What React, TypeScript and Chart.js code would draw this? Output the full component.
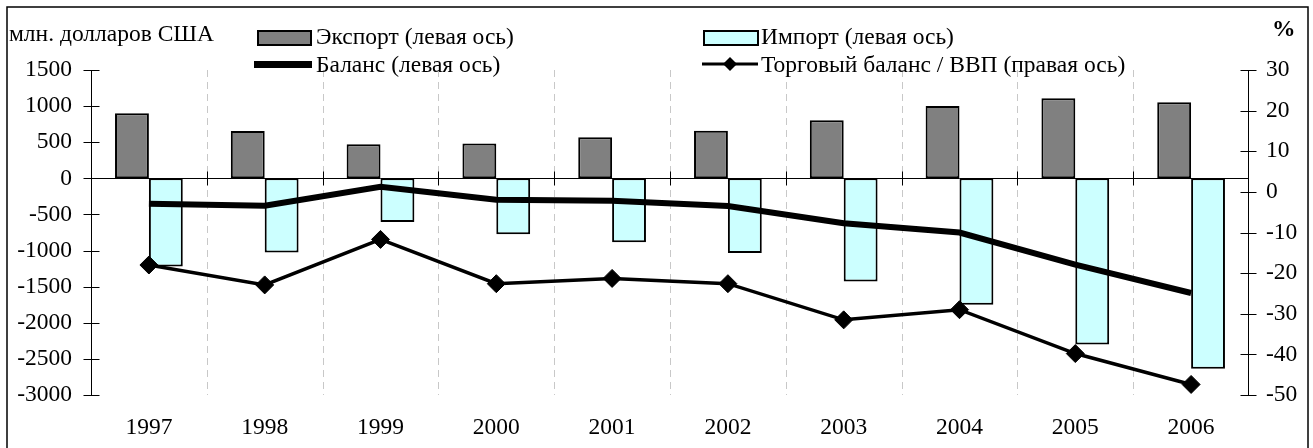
import React, { useEffect, useRef } from 'react';
import { Chart, registerables } from 'chart.js';

Chart.register(...registerables);

const years = ['1997', '1998', '1999', '2000', '2001', '2002', '2003', '2004', '2005', '2006'];
const exportValues = [900, 655, 472, 482, 568, 658, 805, 1000, 1110, 1055];
const importValues = [-1222, -1028, -605, -775, -885, -1035, -1428, -1750, -2300, -2638];
const balanceValues = [-352, -378, -118, -298, -310, -382, -622, -750, -1196, -1588];
const ratioValues = [-18.0, -22.9, -11.7, -22.6, -21.3, -22.6, -31.5, -29.0, -39.8, -47.4];

const leftAxis = { min: -3000, max: 1500, step: 500 };
const rightAxis = { min: -50, max: 30, step: 10 };

const leftTitle = 'млн. долларов США';
const rightTitle = '%';
const legendLabels = [
  'Экспорт (левая ось)',
  'Импорт (левая ось)',
  'Баланс (левая ось)',
  'Торговый баланс / ВВП (правая ось)',
];

const FONT_FAMILY = '"Liberation Serif", "Times New Roman", serif';
const FONT_SIZE = 23.5;
const EXPORT_COLOR = '#808080';
const IMPORT_COLOR = '#ccffff';

function seg(ctx: CanvasRenderingContext2D, x1: number, y1: number, x2: number, y2: number) {
  ctx.beginPath();
  ctx.moveTo(x1, y1);
  ctx.lineTo(x2, y2);
  ctx.stroke();
}

function diamond(ctx: CanvasRenderingContext2D, cx: number, cy: number, r: number) {
  ctx.beginPath();
  ctx.moveTo(cx, cy - r);
  ctx.lineTo(cx + r, cy);
  ctx.lineTo(cx, cy + r);
  ctx.lineTo(cx - r, cy);
  ctx.closePath();
  ctx.fill();
}

const decorPlugin = {
  id: 'decor',
  beforeDatasetsDraw(chart: any) {
    const { ctx, chartArea: a, scales } = chart;
    const yL = scales.yLeft;
    const yR = scales.yRight;
    const n = years.length;
    ctx.save();
    // dashed category boundaries
    ctx.strokeStyle = '#c8c8c8';
    ctx.lineWidth = 1;
    ctx.setLineDash([7, 5]);
    for (let i = 1; i < n; i++) {
      const bx = Math.round(a.left + (i * (a.right - a.left)) / n) + 0.5;
      seg(ctx, bx, a.top, bx, a.bottom);
    }
    ctx.setLineDash([]);
    ctx.strokeStyle = '#000';
    ctx.lineWidth = 1;
    // left axis
    const lx = Math.round(a.left) + 0.5;
    seg(ctx, lx, a.top, lx, a.bottom);
    yL.ticks.forEach((_t: any, i: number) => {
      const py = Math.round(yL.getPixelForTick(i)) + 0.5;
      seg(ctx, lx - 8, py, lx + 8, py);
    });
    // right axis
    const rx = Math.round(a.right) - 0.5;
    seg(ctx, rx, a.top, rx, a.bottom);
    yR.ticks.forEach((_t: any, i: number) => {
      const py = Math.round(yR.getPixelForTick(i)) + 0.5;
      seg(ctx, rx - 8, py, rx + 8, py);
    });
    // zero line of left axis with category ticks
    const zy = Math.round(yL.getPixelForValue(0)) + 0.5;
    seg(ctx, a.left, zy, a.right, zy);
    for (let i = 1; i < n; i++) {
      const bx = Math.round(a.left + (i * (a.right - a.left)) / n) + 0.5;
      seg(ctx, bx, zy - 7, bx, zy + 7);
    }
    ctx.restore();
  },
  afterDraw(chart: any) {
    const { ctx } = chart;
    ctx.save();
    // outer frame
    ctx.strokeStyle = '#000';
    ctx.lineWidth = 1.5;
    ctx.strokeRect(7, 7, 1301, 470);
    // titles
    ctx.fillStyle = '#000';
    ctx.textBaseline = 'middle';
    ctx.textAlign = 'left';
    ctx.font = `${FONT_SIZE}px ${FONT_FAMILY}`;
    ctx.fillText(leftTitle, 9, 35);
    ctx.font = `bold ${FONT_SIZE}px ${FONT_FAMILY}`;
    ctx.fillText(rightTitle, 1272, 30);
    // legend
    ctx.font = `${FONT_SIZE}px ${FONT_FAMILY}`;
    // export box
    ctx.fillStyle = EXPORT_COLOR;
    ctx.fillRect(258, 31, 53, 14);
    ctx.strokeStyle = '#000';
    ctx.lineWidth = 2;
    ctx.strokeRect(258, 31, 53, 14);
    // import box
    ctx.fillStyle = IMPORT_COLOR;
    ctx.fillRect(704, 31, 54, 14);
    ctx.strokeRect(704, 31, 54, 14);
    // balance line sample
    ctx.lineWidth = 7;
    seg(ctx, 254, 64.5, 312, 64.5);
    // ratio line sample
    ctx.lineWidth = 3;
    seg(ctx, 702, 64, 758, 64);
    ctx.fillStyle = '#000';
    diamond(ctx, 730, 64, 7);
    // legend texts
    ctx.fillText(legendLabels[0], 316, 38);
    ctx.fillText(legendLabels[1], 761, 38);
    ctx.fillText(legendLabels[2], 316, 66);
    ctx.fillText(legendLabels[3], 761, 66);
    ctx.restore();
  },
};

export default function App() {
  const canvasRef = useRef<HTMLCanvasElement | null>(null);

  useEffect(() => {
    const canvas = canvasRef.current;
    if (!canvas) return;
    const tickFont = { family: FONT_FAMILY, size: FONT_SIZE };
    const plain = (v: any) => String(v);
    const chart = new Chart(canvas, {
      type: 'bar',
      data: {
        labels: years,
        datasets: [
          {
            type: 'line',
            label: legendLabels[2],
            data: balanceValues,
            yAxisID: 'yLeft',
            borderColor: '#000',
            borderWidth: 6,
            pointRadius: 0,
            fill: false,
            tension: 0,
            order: 1,
          },
          {
            type: 'line',
            label: legendLabels[3],
            data: ratioValues,
            yAxisID: 'yRight',
            borderColor: '#000',
            borderWidth: 3.5,
            pointStyle: 'rectRot',
            pointRadius: 9,
            pointBackgroundColor: '#000',
            pointBorderColor: '#000',
            pointBorderWidth: 1,
            fill: false,
            tension: 0,
            order: 0,
          },
          {
            type: 'bar',
            label: legendLabels[0],
            data: exportValues,
            yAxisID: 'yLeft',
            backgroundColor: EXPORT_COLOR,
            borderColor: '#000',
            borderWidth: 2,
            borderSkipped: false,
            categoryPercentage: 0.585,
            barPercentage: 1,
            order: 2,
          },
          {
            type: 'bar',
            label: legendLabels[1],
            data: importValues,
            yAxisID: 'yLeft',
            backgroundColor: IMPORT_COLOR,
            borderColor: '#000',
            borderWidth: 2,
            borderSkipped: false,
            categoryPercentage: 0.585,
            barPercentage: 1,
            order: 2,
          },
        ],
      },
      options: {
        responsive: false,
        animation: false,
        devicePixelRatio: 1,
        layout: { padding: { top: 70, left: 0, right: 0, bottom: 0 } },
        plugins: {
          legend: { display: false },
          tooltip: { enabled: false },
        },
        scales: {
          x: {
            position: 'bottom',
            grid: { display: false, drawTicks: false },
            border: { display: false },
            ticks: { color: '#000', font: tickFont, padding: 19, maxRotation: 0 },
            afterFit: (s: any) => {
              s.height = 53;
            },
          },
          yLeft: {
            position: 'left',
            min: leftAxis.min,
            max: leftAxis.max,
            grid: { display: false, drawTicks: false },
            border: { display: false },
            ticks: { stepSize: leftAxis.step, color: '#000', font: tickFont, padding: 19, callback: plain },
            afterFit: (s: any) => {
              s.width = 91;
            },
          },
          yRight: {
            position: 'right',
            min: rightAxis.min,
            max: rightAxis.max,
            grid: { display: false, drawTicks: false },
            border: { display: false },
            ticks: { stepSize: rightAxis.step, color: '#000', font: tickFont, padding: 17, callback: plain },
            afterFit: (s: any) => {
              s.width = 64;
            },
          },
        },
      },
      plugins: [decorPlugin],
    } as any);
    return () => chart.destroy();
  }, []);

  return (
    <div style={{ position: 'absolute', left: 0, top: 0, width: 1313, height: 448, background: '#fff' }}>
      <canvas ref={canvasRef} width={1313} height={448} style={{ display: 'block', width: 1313, height: 448 }} />
    </div>
  );
}
